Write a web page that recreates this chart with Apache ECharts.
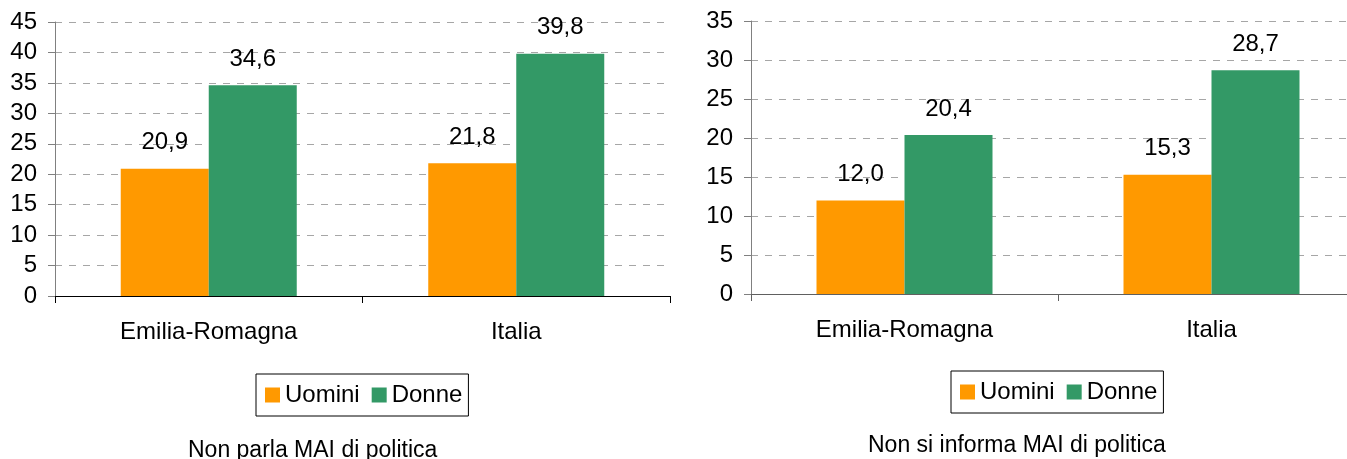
<!DOCTYPE html>
<html>
<head>
<meta charset="utf-8">
<script src="https://cdn.jsdelivr.net/npm/echarts@6/dist/echarts.min.js"></script>
<style>
html,body{margin:0;padding:0;background:#fff;overflow:hidden;width:1347px;height:459px;}
#c{width:1370px;height:459px;}
</style>
</head>
<body>
<div id="c"></div>
<script>
var categories = ['Emilia-Romagna', 'Italia'];
var seriesNames = ['Uomini', 'Donne'];
var parlaUomini = [20.9, 21.8];
var parlaDonne = [34.6, 39.8];
var informaUomini = [12.0, 15.3];
var informaDonne = [20.4, 28.7];
var leftTicks = {min: 0, max: 45, interval: 5};
var rightTicks = {min: 0, max: 35, interval: 5};
var titles = ['Non parla MAI di politica', 'Non si informa MAI di politica'];

var FONT = 'Liberation Sans, Arial, sans-serif';
var FS = 24;
var ORANGE = '#FF9900', GREEN = '#339966';

function fmt(p) { return p.value.toFixed(1).replace('.', ','); }

function xAxis(gi, lineColor) {
  return {
    type: 'category', gridIndex: gi, data: categories,
    axisLine: {lineStyle: {color: lineColor, width: 1}},
    axisTick: {show: true, length: 7, lineStyle: {color: lineColor}},
    axisLabel: {color: '#000', fontSize: FS, fontFamily: FONT, margin: 24}
  };
}
function yAxis(gi, t) {
  return {
    type: 'value', gridIndex: gi, min: t.min, max: t.max, interval: t.interval,
    axisLine: {show: true, lineStyle: {color: '#808080'}},
    axisTick: {show: true, length: 7, lineStyle: {color: '#808080'}},
    axisLabel: {color: '#000', fontSize: FS, fontFamily: FONT, margin: 18},
    splitLine: {show: true, lineStyle: {color: '#a6a6a6', type: [7, 7], width: 1}}
  };
}
function bar(name, data, color, gi) {
  return {
    name: name, type: 'bar', xAxisIndex: gi, yAxisIndex: gi, data: data,
    barWidth: 88, barGap: '0%',
    itemStyle: {color: color},
    label: {show: true, position: 'top', distance: 14, formatter: fmt,
            color: '#000', fontSize: FS, fontFamily: FONT},
    animation: false
  };
}
function legend(left, top) {
  return {
    left: left, top: top, orient: 'horizontal',
    data: seriesNames, icon: 'rect', itemWidth: 15, itemHeight: 15,
    itemGap: 12, padding: [9, 6, 9, 9],
    borderColor: '#000', borderWidth: 1,
    textStyle: {color: '#000', fontSize: FS, fontFamily: FONT}
  };
}

var chart = echarts.init(document.getElementById('c'), null, {renderer: 'canvas'});
chart.setOption({
  animation: false,
  backgroundColor: '#fff',
  grid: [
    {left: 55, top: 22, width: 615, height: 274},
    {left: 751, top: 21, width: 614, height: 273}
  ],
  xAxis: [xAxis(0, '#000'), xAxis(1, '#606060')],
  yAxis: [yAxis(0, leftTicks), yAxis(1, rightTicks)],
  legend: [legend(256, 374), legend(951, 371)],
  title: [
    {text: titles[0], left: 188, top: 439, padding: 0,
     textStyle: {color: '#000', fontSize: 23, fontWeight: 'normal', fontFamily: FONT}},
    {text: titles[1], left: 868, top: 434, padding: 0,
     textStyle: {color: '#000', fontSize: 23, fontWeight: 'normal', fontFamily: FONT}}
  ],
  series: [
    bar(seriesNames[0], parlaUomini, ORANGE, 0),
    bar(seriesNames[1], parlaDonne, GREEN, 0),
    bar(seriesNames[0], informaUomini, ORANGE, 1),
    bar(seriesNames[1], informaDonne, GREEN, 1)
  ]
});
</script>
</body>
</html>
